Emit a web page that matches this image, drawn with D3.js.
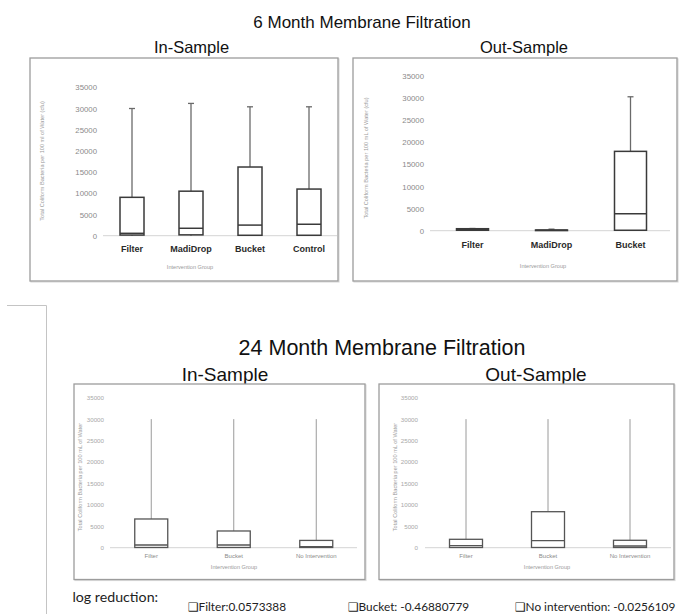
<!DOCTYPE html>
<html><head><meta charset="utf-8">
<script src="https://cdn.jsdelivr.net/npm/d3@7"></script>
<style>body{margin:0;background:#fff}svg{display:block}</style>
</head><body>
<svg id="c" width="679" height="614"></svg>
<script>
// ---- data ----
const mainTitles = ["6 Month Membrane Filtration", "24 Month Membrane Filtration"];
const panelTitles = ["In-Sample", "Out-Sample"];
const yTicks = [0, 5000, 10000, 15000, 20000, 25000, 30000, 35000];

const m6InCategories = ["Filter", "MadiDrop", "Bucket", "Control"];
const m6InMin    = [0, 0, 0, 0];
const m6InQ1     = [150, 200, 100, 100];
const m6InMedian = [560, 1750, 2500, 2700];
const m6InQ3     = [9050, 10500, 16200, 11000];
const m6InMax    = [30000, 31200, 30400, 30400];

const m6OutCategories = ["Filter", "MadiDrop", "Bucket"];
const m6OutMin    = [0, 0, 0];
const m6OutQ1     = [100, 30, 100];
const m6OutMedian = [300, 90, 3850];
const m6OutQ3     = [450, 160, 17950];
const m6OutMax    = [500, 350, 30300];

const m24InCategories = ["Filter", "Bucket", "No Intervention"];
const m24InMin    = [0, 0, 0];
const m24InQ1     = [50, 50, 50];
const m24InMedian = [630, 630, 250];
const m24InQ3     = [6700, 3900, 1700];
const m24InMax    = [30000, 30000, 30000];

const m24OutCategories = ["Filter", "Bucket", "No Intervention"];
const m24OutMin    = [0, 0, 0];
const m24OutQ1     = [50, 50, 50];
const m24OutMedian = [470, 1640, 400];
const m24OutQ3     = [1960, 8400, 1730];
const m24OutMax    = [30000, 30000, 30000];

const yTitle6In  = "Total Coliform Bacteria per 100 ml of Water (cfu)";
const yTitle6Out = "Total Coliform Bacteria per 100 mL of Water (cfu)";
const yTitle24   = "Total Coliform Bacteria per 100 mL of Water";
const xTitle     = "Intervention Group";
const logLabel   = "log reduction:";
const logItems   = ["\u2751Filter:0.0573388", "\u2751Bucket: -0.46880779", "\u2751No intervention: -0.0256109"];

// ---- drawing ----
const svg = d3.select("#c");
const SANS = "'Liberation Sans', Arial, Helvetica, sans-serif";

function frame(x0, y0, x1, y1) {
  svg.append("rect").attr("x", x0 + 1).attr("y", y0 + 1).attr("width", x1 - x0).attr("height", y1 - y0)
    .attr("fill", "none").attr("stroke", "#dcdcdc").attr("stroke-width", 1.2);
  svg.append("rect").attr("x", x0).attr("y", y0).attr("width", x1 - x0).attr("height", y1 - y0)
    .attr("fill", "#fff").attr("stroke", "#9c9c9c").attr("stroke-width", 1.3);
}

function panel(cfg) {
  const {cats, mins, q1, med, q3, maxs} = cfg;
  const y = d3.scaleLinear().domain([0, 35000]).range([cfg.y0, cfg.yTop]);
  const x = d3.scaleBand().domain(cats).range([cfg.bandL, cfg.bandR]).padding(0);
  const g = svg.append("g");

  g.append("line").attr("x1", cfg.lineL).attr("x2", cfg.lineR)
    .attr("y1", y(0)).attr("y2", y(0)).attr("stroke", "#d4d4d4").attr("stroke-width", 1);

  const ax = d3.axisLeft(y).tickValues(yTicks).tickSize(0).tickPadding(0).tickFormat(d3.format("d"));
  const ag = g.append("g").attr("transform", `translate(${cfg.labelR},0)`).call(ax);
  ag.select(".domain").remove();
  ag.selectAll("text").attr("font-family", SANS).attr("font-size", cfg.tickSize)
    .attr("fill", cfg.tickColor);

  const data = cats.map((c, i) => ({c, mn: mins[i], q1: q1[i], md: med[i], q3: q3[i], mx: maxs[i]}));
  const bw = cfg.boxW;
  const bg = g.selectAll("g.box").data(data).join("g").attr("class", "box")
    .attr("transform", d => `translate(${x(d.c) + x.bandwidth() / 2},0)`);
  bg.append("line").attr("x1", 0).attr("x2", 0).attr("y1", d => y(d.q3)).attr("y2", d => y(d.mx))
    .attr("stroke", cfg.whiskColor).attr("stroke-width", cfg.whiskW);
  bg.append("line").attr("x1", 0).attr("x2", 0).attr("y1", d => y(d.mn)).attr("y2", d => y(d.q1))
    .attr("stroke", cfg.whiskColor).attr("stroke-width", cfg.whiskW);
  if (cfg.cap) {
    bg.append("line").attr("x1", -cfg.cap).attr("x2", cfg.cap).attr("y1", d => y(d.mx)).attr("y2", d => y(d.mx))
      .attr("stroke", cfg.whiskColor).attr("stroke-width", cfg.whiskW);
  }
  bg.append("rect").attr("x", -bw / 2).attr("width", bw)
    .attr("y", d => y(d.q3)).attr("height", d => Math.max(0.5, y(d.q1) - y(d.q3)))
    .attr("fill", "none").attr("stroke", cfg.boxColor).attr("stroke-width", cfg.boxStroke);
  bg.append("line").attr("x1", -bw / 2).attr("x2", bw / 2).attr("y1", d => y(d.md)).attr("y2", d => y(d.md))
    .attr("stroke", cfg.boxColor).attr("stroke-width", cfg.boxStroke);

  g.selectAll("text.cat").data(cats).join("text").attr("class", "cat")
    .attr("x", d => x(d) + x.bandwidth() / 2).attr("y", cfg.catY)
    .attr("text-anchor", "middle").attr("font-family", SANS)
    .attr("font-size", cfg.catSize).attr("font-weight", cfg.catWeight).attr("fill", cfg.catColor)
    .text(d => d);

  g.append("text").attr("x", cfg.xtX).attr("y", cfg.xtY).attr("text-anchor", "middle")
    .attr("font-family", SANS).attr("font-size", cfg.titleSize).attr("fill", "#9a9a9a").text(xTitle);
  g.append("text").attr("transform", `translate(${cfg.ytX},${cfg.ytY}) rotate(-90)`)
    .attr("text-anchor", "middle").attr("font-family", SANS).attr("font-size", cfg.titleSize)
    .attr("fill", "#9a9a9a").text(cfg.yTitle);
}

function text(t, x, yy, size, anchor, opts = {}) {
  svg.append("text").attr("x", x).attr("y", yy).attr("text-anchor", anchor)
    .attr("font-family", opts.family || SANS).attr("font-size", size)
    .attr("fill", opts.fill || "#111").text(t);
}

// ---- 6 month ----
text(mainTitles[0], 362, 28, 17, "middle");
text(panelTitles[0], 191.5, 52.5, 16.5, "middle");
text(panelTitles[1], 524, 52.5, 16.5, "middle");
frame(30, 58, 338, 281);
frame(353, 58, 677, 281);

const topStyle = {tickSize: 7.8, tickColor: "#8a8a8a", whiskColor: "#6a6a6a", whiskW: 1.3, cap: 3,
  boxColor: "#3a3a3a", boxStroke: 1.5, catSize: 9, catWeight: "bold", catColor: "#2a2a2a", titleSize: 5.6};
panel(Object.assign({}, topStyle, {
  cats: m6InCategories, mins: m6InMin, q1: m6InQ1, med: m6InMedian, q3: m6InQ3, maxs: m6InMax,
  y0: 235.7, yTop: 87.3, bandL: 102.5, bandR: 338.5, lineL: 103, lineR: 337, labelR: 97,
  boxW: 24, catY: 251.5, xtX: 190, xtY: 268.5, ytX: 44, ytY: 161, yTitle: yTitle6In}));
panel(Object.assign({}, topStyle, {
  cats: m6OutCategories, mins: m6OutMin, q1: m6OutQ1, med: m6OutMedian, q3: m6OutQ3, maxs: m6OutMax,
  y0: 230.7, yTop: 76, bandL: 433, bandR: 670, lineL: 430, lineR: 670, labelR: 424,
  boxW: 32, catY: 247.5, xtX: 543, xtY: 267.5, ytX: 368, ytY: 158, yTitle: yTitle6Out}));

svg.append("path").attr("d", "M7,305.5 H46.5 V614").attr("fill", "none").attr("stroke", "#c4c4c4").attr("stroke-width", 1);

// ---- 24 month ----
text(mainTitles[1], 382, 355, 21.5, "middle");
text(panelTitles[0], 225, 381, 19, "middle");
text(panelTitles[1], 536, 381, 19, "middle");
frame(74, 384, 365, 579.5);
frame(379, 384, 674, 579.5);

const botStyle = {tickSize: 6.2, tickColor: "#a8a8a8", whiskColor: "#9a9a9a", whiskW: 1, cap: 0,
  boxColor: "#555", boxStroke: 1.3, catSize: 6, catWeight: "normal", catColor: "#8a8a8a", titleSize: 5.6};
panel(Object.assign({}, botStyle, {
  cats: m24InCategories, mins: m24InMin, q1: m24InQ1, med: m24InMedian, q3: m24InQ3, maxs: m24InMax,
  y0: 547.7, yTop: 397.7, bandL: 110, bandR: 357.5, lineL: 110, lineR: 357, labelR: 104,
  boxW: 33, catY: 558, xtX: 234, xtY: 568.5, ytX: 82, ytY: 477, yTitle: yTitle24}));
panel(Object.assign({}, botStyle, {
  cats: m24OutCategories, mins: m24OutMin, q1: m24OutQ1, med: m24OutMedian, q3: m24OutQ3, maxs: m24OutMax,
  y0: 547.7, yTop: 397.7, bandL: 425, bandR: 671, lineL: 425, lineR: 671, labelR: 418,
  boxW: 33, catY: 558, xtX: 547, xtY: 568.5, ytX: 397, ytY: 477, yTitle: yTitle24}));

// ---- log reduction ----
const LATO = "Lato, 'DejaVu Sans', sans-serif";
text(logLabel, 72.5, 601.5, 14.2, "start", {family: LATO, fill: "#222"});
const logX = [188, 348, 515];
logItems.forEach((t, i) => text(t, logX[i], 611, 11.8, "start", {family: LATO, fill: "#222"}));
</script>
</body></html>
